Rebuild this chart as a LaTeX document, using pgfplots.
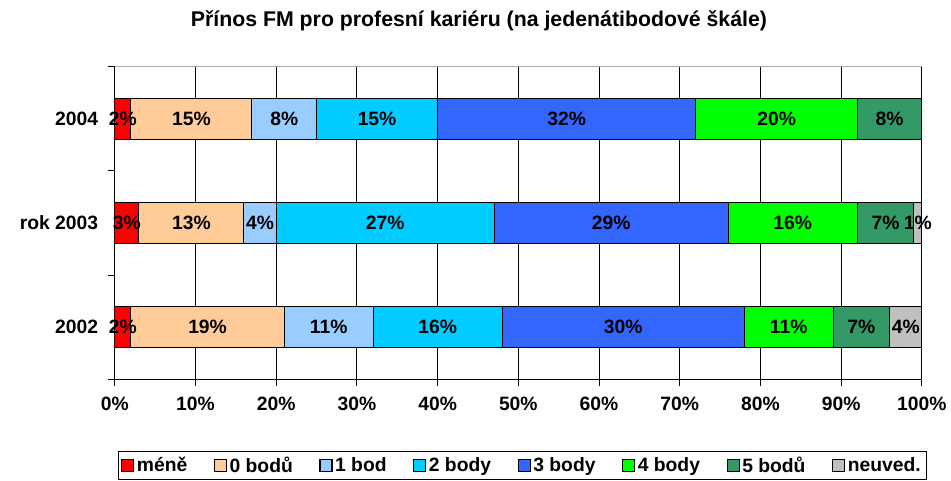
\documentclass[border=0pt]{standalone}
\usepackage{pgfplots}
\pgfplotsset{compat=1.18}
\usepackage{fontspec}
\setmainfont{Liberation Sans}
\usetikzlibrary{calc}
\definecolor{cmene}{HTML}{FF0000}
\definecolor{cnula}{HTML}{FFCC99}
\definecolor{cjeden}{HTML}{99CCFF}
\definecolor{cdva}{HTML}{00CCFF}
\definecolor{ctri}{HTML}{3366FF}
\definecolor{cctyri}{HTML}{00FF00}
\definecolor{cpet}{HTML}{339966}
\definecolor{cnev}{HTML}{C0C0C0}
\begin{document}
\begin{tikzpicture}
\begin{axis}[
  scale only axis,
  width=606.75pt, height=234.75pt,
  xbar stacked,
  bar width=30.75pt,
  xmin=0, xmax=100,
  ymin=0.5, ymax=3.5,
  xtick={0,10,...,100},
  xticklabel={\pgfmathprintnumber{\tick}\%},
  ytick={1,2,3},
  yticklabels={2002,rok 2003,2004},
  minor ytick={0.5,1.5,2.5,3.5},
  major tick length=0pt,
  tick align=outside,
  minor tick length=5pt,
  every minor tick/.style={black, line width=0.8pt},
  extra x ticks={0,10,...,100},
  extra x tick labels={},
  extra x tick style={major tick length=5pt, tick style={black, line width=0.8pt}, grid=none},
  xmajorgrids,
  grid style={black, line width=0.8pt},
  axis x line*=bottom,
  axis y line*=left,
  axis line style={black, line width=0.9pt, -},
  /pgf/number format/assume math mode=true,
  tick label style={font=\fontsize{14.5}{16}\selectfont\bfseries},
  yticklabel style={xshift=-9pt},
  xticklabel style={yshift=-10pt},
  title={Přínos FM pro profesní kariéru (na jedenátibodové škále)},
  title style={font=\fontsize{16}{18}\selectfont\bfseries, at={(0.5,1)}, anchor=center, yshift=29pt, xshift=-29.6pt},
  visualization depends on={rawx \as \rawx},
  nodes near coords={\pgfmathprintnumber{\rawx}\%},
  every node near coord/.style={font=\fontsize{14.5}{16}\selectfont\bfseries, anchor=center, black, inner sep=1pt},
  legend columns=-1,
  legend style={at={(0.5,0)}, anchor=north, yshift=-54pt, xshift=3pt, draw=black, line width=0.8pt,
    font=\fontsize{14.5}{16}\selectfont\bfseries, inner sep=2pt,
    /tikz/every even column/.append style={column sep=18pt}},
  legend image code/.code={\draw[#1, line width=0.8pt] (0pt,-4.5pt) rectangle (9pt,4.5pt);},
  every axis plot/.append style={draw=black, line width=0.8pt},
]
\addplot[fill=cmene] coordinates {(2,1) (3,2) (2,3)};
\addplot[fill=cnula] coordinates {(19,1) (13,2) (15,3)};
\addplot[fill=cjeden] coordinates {(11,1) (4,2) (8,3)};
\addplot[fill=cdva] coordinates {(16,1) (27,2) (15,3)};
\addplot[fill=ctri] coordinates {(30,1) (29,2) (32,3)};
\addplot[fill=cctyri] coordinates {(11,1) (16,2) (20,3)};
\addplot[fill=cpet] coordinates {(7,1) (7,2) (8,3)};
\addplot[fill=cnev] coordinates {(4,1) (1,2)};
\legend{méně,0 bodů,1 bod,2 body,3 body,4 body,5 bodů,neuved.}
\draw[gray!70, line width=0.6pt] (rel axis cs:0,1) -- (rel axis cs:1,1) -- (rel axis cs:1,0);
\coordinate (O) at (rel axis cs:0,0);
\end{axis}
\path[use as bounding box] ($(O)+(-86.25pt,-76.5pt)$) rectangle ++(713.25pt,361.5pt);
\end{tikzpicture}
\end{document}
